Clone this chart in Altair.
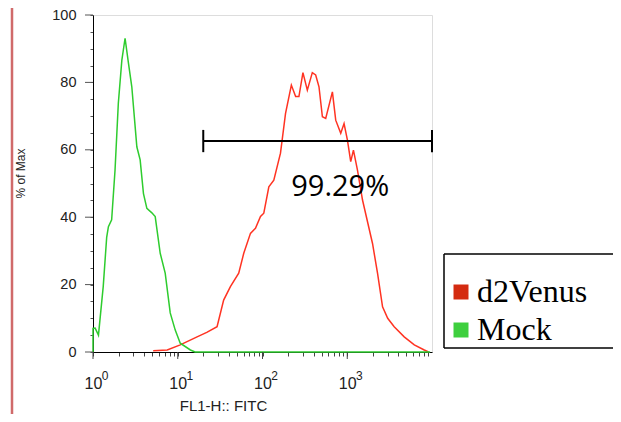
import altair as alt
import pandas as pd

# ---- data ----
series_names = ["d2Venus", "Mock"]
line_colors = {"d2Venus": "#ff3322", "Mock": "#2ecc2e"}
legend_colors = ["#d42b10", "#3ecf3e"]

# Mock (green) histogram: FL1-H intensity vs % of max
mock_x = [1.0, 1.0, 1.06, 1.16, 1.32, 1.45, 1.52, 1.66, 1.82, 1.99, 2.19, 2.39,
          2.62, 2.87, 3.29, 3.60, 3.94, 4.32, 4.95, 5.42, 6.21, 7.11, 8.15,
          9.34, 10.7, 14.1, 16.0, 9500]
mock_y = [0, 7.0, 7.1, 5.0, 19.4, 34.0, 37.2, 39.2, 54.0, 73.8, 86.6, 93.1,
          85.7, 78.7, 60.9, 57.0, 47.0, 42.6, 41.3, 40.2, 29.3, 23.4, 11.6,
          6.5, 2.6, 0.6, 0, 0]

# d2Venus (red) histogram
venus_x = [5.13, 7.51, 10.7, 16.9, 22.0, 29.1, 34.8, 41.8, 52.4, 60.1, 72.1, 82.6,
           94.7, 103.6, 118.8, 136, 163, 187, 219, 246, 269, 300, 338, 387,
           424, 464, 509, 557, 668, 731, 838, 917, 1005, 1099, 1183, 1320,
           1514, 1987, 2276, 2610, 3000, 3580, 4700, 6180, 8110, 9100]
venus_y = [0.4, 0.6, 2.1, 4.5, 5.8, 7.5, 15.4, 19.4, 23.4, 29.3, 35.2, 36.7, 40.2,
           41.2, 49.0, 51.0, 59.0, 70.8, 79.2, 75.8, 75.8, 82.9, 77.7, 82.9,
           82.2, 78.7, 69.8, 69.3, 77.2, 68.8, 64.9, 67.8, 62.9, 56.5, 59.9,
           54.0, 45.1, 32.2, 23.4, 13.4, 10.0, 7.5, 4.5, 2.1, 0.6, 0]

# gate marker
gate_lo, gate_hi, gate_y = 20, 10000, 62.6
gate_cap = [59.3, 65.9]
gate_label = "99.29%"
gate_label_pos = (826, 46.3)

# axis ticks
decades = [1, 10, 100, 1000]
exponents = ["0", "1", "2", "3"]
x_ticks = [m * d for d in decades for m in range(1, 10)]
y_ticks = list(range(0, 101, 5))
y_major = list(range(0, 101, 20))

W, H = 339, 337

df_mock = pd.DataFrame({"fl": mock_x, "pct": mock_y, "i": range(len(mock_x))})
df_venus = pd.DataFrame({"fl": venus_x, "pct": venus_y, "i": range(len(venus_x))})
df_gate = pd.DataFrame({"lo": [gate_lo], "hi": [gate_hi], "y": [gate_y]})
df_caps = pd.DataFrame({"lo": [gate_lo, gate_hi], "y": [gate_cap[0]] * 2, "y2": [gate_cap[1]] * 2})
df_lab = pd.DataFrame({"fl": [gate_label_pos[0]], "pct": [gate_label_pos[1]], "t": [gate_label]})
df_exp = pd.DataFrame({"fl": decades, "e": exponents})
df_ymaj = pd.DataFrame({"pct": y_major})
df_leg = pd.DataFrame({"series": series_names})
df_one = pd.DataFrame({"a": [0]})

xs = alt.Scale(type="log", domain=[1, 10000])
ys = alt.Scale(domain=[0, 100])

x_axis = alt.Axis(
    values=x_ticks,
    labelExpr="indexof([1,10,100,1000], datum.value) >= 0 ? '10' : ''",
    tickSize=4, labelPadding=19, labelFontSize=16, labelFont="Liberation Sans",
    labelColor="#222",
    title="FL1-H:: FITC", titleFont="Liberation Sans", titleFontSize=15,
    titleFontWeight="normal", titleColor="#222", titleX=130, titleY=58,
    titleAlign="center", titleBaseline="alphabetic",
    grid=False, domainColor="black", tickColor="#444", labelFlush=False,
    labelOverlap=False,
)
y_axis = alt.Axis(
    values=y_ticks,
    labelExpr="datum.value % 20 == 0 ? datum.label : ''",
    tickSize=3, labelPadding=14, labelFontSize=14.5, labelFont="Liberation Sans",
    labelColor="#222",
    title="% of Max", titleFont="Liberation Sans", titleFontSize=12,
    titleFontWeight="normal", titleColor="#222", titleX=-69, titleY=158,
    titleAngle=270, titleAlign="center", titleBaseline="alphabetic",
    grid=False, domainColor="black", tickColor="#555", labelOverlap=False,
)

X = alt.X("fl:Q", scale=xs, axis=x_axis)
Y = alt.Y("pct:Q", scale=ys, axis=y_axis)

venus = alt.Chart(df_venus).mark_line(color=line_colors["d2Venus"], strokeWidth=1.5).encode(
    x=X, y=Y, order="i:Q",
)
mock = alt.Chart(df_mock).mark_line(color=line_colors["Mock"], strokeWidth=1.5).encode(
    x=X, y=Y, order="i:Q",
)
# longer major ticks
xmaj = alt.Chart(df_exp).mark_rule(color="#444", strokeWidth=1).encode(
    x=X, y=alt.value(H), y2=alt.value(H + 7),
)
ymaj = alt.Chart(df_ymaj).mark_rule(color="#555", strokeWidth=1).encode(
    y=Y, x=alt.value(0), x2=alt.value(-8),
)
gate = alt.Chart(df_gate).mark_rule(color="black", strokeWidth=2).encode(
    x=alt.X("lo:Q", scale=xs, axis=x_axis), x2="hi:Q",
    y=alt.Y("y:Q", scale=ys, axis=y_axis),
)
caps = alt.Chart(df_caps).mark_rule(color="black", strokeWidth=2).encode(
    x=alt.X("lo:Q", scale=xs, axis=x_axis),
    y=alt.Y("y:Q", scale=ys, axis=y_axis), y2="y2:Q",
)
label = alt.Chart(df_lab).mark_text(font="Open Sans", fontSize=29, color="black",
                                    align="center", baseline="alphabetic").encode(
    x=X, y=Y, text="t:N",
)
sup = alt.Chart(df_exp).mark_text(font="Liberation Sans", fontSize=12, color="#222",
                                  align="center", baseline="middle", dx=12).encode(
    x=X, y=alt.value(H + 24), text="e:N",
)
legend_layer = alt.Chart(df_leg).transform_filter("false").mark_square(opacity=1, filled=True).encode(
    color=alt.Color("series:N", scale=alt.Scale(domain=series_names, range=legend_colors),
                    legend=alt.Legend(orient="none", legendX=346, legendY=261, title=None,
                                      symbolType="square", symbolSize=225, symbolStrokeWidth=0,
                                      symbolOpacity=1, symbolOffset=6,
                                      labelFont="Liberation Serif", labelFontSize=32,
                                      labelColor="black", labelOffset=0, rowPadding=6,
                                      padding=0, labelLimit=300)),
)
# legend frame (its right side lies beyond the picture)
box_top = alt.Chart(df_one).mark_rule(color="black", strokeWidth=1.5).encode(
    x=alt.value(700), x2=alt.value(351), y=alt.value(239),
)
box_bottom = alt.Chart(df_one).mark_rule(color="black", strokeWidth=1.5).encode(
    x=alt.value(700), x2=alt.value(351), y=alt.value(333),
)
box_left = alt.Chart(df_one).mark_rule(color="black", strokeWidth=1.5).encode(
    x=alt.value(351), y=alt.value(239), y2=alt.value(333),
)
edge = alt.Chart(df_one).mark_rule(color="#d06a6a", strokeWidth=2.5).encode(
    x=alt.value(-81), y=alt.value(-10), y2=alt.value(420),
)

chart = alt.layer(edge, box_top, box_bottom, box_left, venus, mock, xmaj, ymaj,
                  gate, caps, label, sup, legend_layer).properties(
    width=W, height=H,
    padding={"left": 85, "top": 7, "right": 181, "bottom": 62},
    autosize=alt.AutoSizeParams(type="none"),
).configure_view(stroke="#111", strokeWidth=1.5).configure(background="white")

chart.save("out.html", embed_options={"renderer": "svg", "actions": False})
